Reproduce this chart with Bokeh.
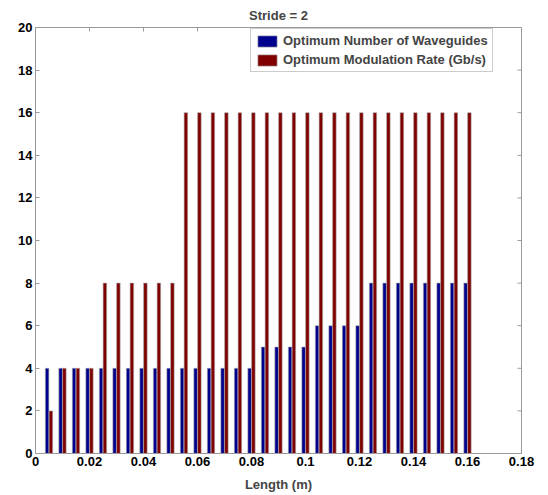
import math
from bokeh.plotting import figure
from bokeh.models import (ColumnDataSource, Range1d, FixedTicker, Legend, LegendItem)
from bokeh.transform import dodge
from bokeh.embed import file_html
from bokeh.resources import INLINE

# Link length (m) for each design point
lengths = [0.005, 0.010, 0.015, 0.020, 0.025, 0.030, 0.035, 0.040,
           0.045, 0.050, 0.055, 0.060, 0.065, 0.070, 0.075, 0.080,
           0.085, 0.090, 0.095, 0.100, 0.105, 0.110, 0.115, 0.120,
           0.125, 0.130, 0.135, 0.140, 0.145, 0.150, 0.155, 0.160]

# Optimum number of waveguides
waveguides = [4, 4, 4, 4, 4, 4, 4, 4,
              4, 4, 4, 4, 4, 4, 4, 4,
              5, 5, 5, 5, 6, 6, 6, 6,
              8, 8, 8, 8, 8, 8, 8, 8]

# Optimum modulation rate (Gb/s)
mod_rate = [2, 4, 4, 4, 8, 8, 8, 8,
            8, 8, 16, 16, 16, 16, 16, 16,
            16, 16, 16, 16, 16, 16, 16, 16,
            16, 16, 16, 16, 16, 16, 16, 16]

x_ticks = [0, 0.02, 0.04, 0.06, 0.08, 0.10, 0.12, 0.14, 0.16, 0.18]
x_tick_labels = ["0", "0.02", "0.04", "0.06", "0.08", "0.1", "0.12", "0.14", "0.16", "0.18"]
y_ticks = [0, 2, 4, 6, 8, 10, 12, 14, 16, 18, 20]

series_names = ["Optimum Number of Waveguides", "Optimum Modulation Rate (Gb/s)"]
series_colors = ["#00008F", "#800000"]

X_MAX, Y_MAX = 0.18, 20
FONT = "Liberation Sans"
GRID_GRAY = "#9a9a9a"

source = ColumnDataSource(dict(length=lengths, wg=waveguides, rate=mod_rate))

p = figure(width=548, height=495, output_backend="svg", toolbar_location=None,
           x_range=Range1d(0, X_MAX), y_range=Range1d(0, Y_MAX),
           min_border_left=35, min_border_right=27, min_border_top=24,
           min_border_bottom=42)
p.background_fill_color = "white"
p.border_fill_color = "white"
p.outline_line_color = GRID_GRAY
p.grid.visible = False

bar_w = 0.0013
r_wg = p.vbar(x=dodge("length", -0.0007, range=p.x_range), top="wg", width=bar_w,
              source=source, fill_color=series_colors[0], line_color="#a8a8a8",
              line_width=0.6)
r_rate = p.vbar(x=dodge("length", 0.0007, range=p.x_range), top="rate", width=bar_w,
                source=source, fill_color=series_colors[1], line_color="#a8a8a8",
                line_width=0.6)

# Box ticks along the top and right edges (half of each dash is clipped by the frame)
p.scatter(x=x_ticks, y=[Y_MAX] * len(x_ticks), marker="dash", angle=math.pi / 2,
          size=8, line_color=GRID_GRAY, line_width=1)
p.scatter(x=[X_MAX] * len(y_ticks), y=y_ticks, marker="dash",
          size=8, line_color=GRID_GRAY, line_width=1)

p.title.text = "Stride = 2"
p.title.align = "center"
p.title.text_font = FONT
p.title.text_font_style = "bold"
p.title.text_font_size = "13px"
p.title.offset = 0

def style_axis(ax, ticks, labels):
    ax.ticker = FixedTicker(ticks=ticks)
    ax.major_label_overrides = {t: l for t, l in zip(ticks, labels)}
    ax.axis_line_color = GRID_GRAY
    ax.major_tick_line_color = GRID_GRAY
    ax.major_tick_in = 4
    ax.major_tick_out = 0
    ax.minor_tick_line_color = None
    ax.major_label_text_font = FONT
    ax.major_label_text_font_style = "bold"
    ax.major_label_text_font_size = "13px"
    ax.major_label_text_color = "black"
    ax.major_label_standoff = 3

style_axis(p.xaxis[0], x_ticks, x_tick_labels)
style_axis(p.yaxis[0], y_ticks, [str(v) for v in y_ticks])
p.xaxis[0].axis_label = "Length (m)"
p.xaxis[0].axis_label_text_font = FONT
p.xaxis[0].axis_label_text_font_style = "bold"
p.xaxis[0].axis_label_text_font_size = "13px"
p.xaxis[0].axis_label_standoff = 8

legend = Legend(items=[LegendItem(label=series_names[0], renderers=[r_wg]),
                       LegendItem(label=series_names[1], renderers=[r_rate])],
                location=(215, 381))
legend.label_text_font = FONT
legend.label_text_font_style = "bold"
legend.label_text_font_size = "13px"
legend.glyph_width = 24
legend.glyph_height = 14
legend.label_height = 14
legend.spacing = 4
legend.padding = 4
legend.margin = 0
legend.label_standoff = 4
legend.border_line_color = GRID_GRAY
legend.border_line_width = 1
legend.background_fill_alpha = 1
p.add_layout(legend)

open("out.html", "w").write(file_html(p, INLINE))
